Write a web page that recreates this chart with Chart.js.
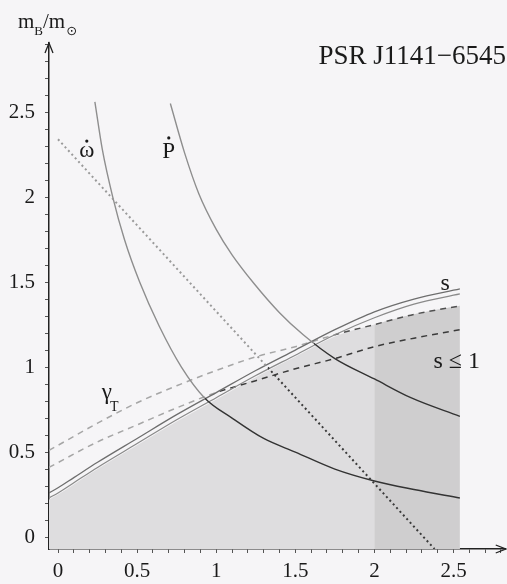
<!DOCTYPE html>
<html>
<head>
<meta charset="utf-8">
<script src="https://cdn.jsdelivr.net/npm/chart.js@4.4.1/dist/chart.umd.min.js"></script>
<style>
  html, body { margin: 0; padding: 0; background: #f6f5f7; }
  #wrap { width: 507px; height: 584px; position: relative; }
</style>
</head>
<body>
<div id="wrap"><canvas id="massChart"></canvas></div>
<script>
// tick labels
const xTickValues = [0, 0.5, 1, 1.5, 2, 2.5];
const xTickLabels = ['0', '0.5', '1', '1.5', '2', '2.5'];
const yTickValues = [0, 0.5, 1, 1.5, 2, 2.5];
const yTickLabels = ['0', '0.5', '1', '1.5', '2', '2.5'];

// omega-dot curve (solid, left)
const omegaX = [0.233, 0.28, 0.346, 0.42, 0.516, 0.64, 0.78, 0.925, 1.1, 1.3, 1.5, 1.75, 2.0, 2.25, 2.54];
const omegaY = [2.56, 2.28, 2.0, 1.75, 1.5, 1.24, 1.0, 0.82, 0.70, 0.58, 0.50, 0.40, 0.33, 0.28, 0.23];

// P-dot curve (solid, right)
const pdotX = [0.71, 0.8, 0.89, 1.0, 1.1, 1.24, 1.4, 1.55, 1.75, 2.0, 2.23, 2.54];
const pdotY = [2.55, 2.26, 2.02, 1.81, 1.66, 1.49, 1.32, 1.19, 1.05, 0.93, 0.82, 0.71];

// GR omega-dot line (dotted)
const grX = [0, 2.38];
const grY = [2.34, -0.07];

// s curves (double solid line)
const sX = [-0.057, 0, 0.1, 0.25, 0.5, 0.75, 1.0, 1.25, 1.5, 1.75, 2.0, 2.25, 2.54];
const sUpperY = [0.26, 0.29, 0.35, 0.44, 0.58, 0.72, 0.85, 0.98, 1.10, 1.22, 1.325, 1.40, 1.46];
const sLowerY = [0.23, 0.26, 0.32, 0.41, 0.55, 0.69, 0.82, 0.95, 1.07, 1.19, 1.29, 1.37, 1.43];

// gamma_T curves (dashed)
const gammaX = [-0.057, 0.25, 0.5, 0.75, 1.0, 1.25, 1.5, 1.75, 2.0, 2.25, 2.54];
const gammaUpperY = [0.51, 0.67, 0.79, 0.89, 0.98, 1.06, 1.12, 1.19, 1.25, 1.31, 1.36];
const gammaLowerY = [0.41, 0.56, 0.66, 0.76, 0.85, 0.92, 0.99, 1.05, 1.12, 1.17, 1.22];

// shaded s <= 1 region
const shadeX = [-0.057, 0, 0.1, 0.25, 0.5, 0.75, 1.0, 1.25, 1.5, 1.75, 2.0, 2.25, 2.54];
const shadeY = [0.22, 0.25, 0.31, 0.40, 0.54, 0.68, 0.81, 0.94, 1.06, 1.18, 1.25, 1.31, 1.36];
const bandX = [2.0, 2.25, 2.54];
const bandY = [1.25, 1.31, 1.36];

function pts(xs, ys) {
    return xs.map((x, i) => ({ x: x, y: ys[i] }));
}

const LIGHT = '#8e8e8e';
const DARK = '#333333';

// colour switches from light to dark where the line enters the shaded area
function splitColor(light, dark, fromX) {
    return function(context) {
        const chart = context.chart;
        const area = chart.chartArea;
        if (!area || !chart.scales.x) return light;
        const px = chart.scales.x.getPixelForValue(fromX);
        let t = (px - area.left) / (area.right - area.left);
        t = Math.min(1, Math.max(0, t));
        const g = chart.ctx.createLinearGradient(area.left, 0, area.right, 0);
        g.addColorStop(0, light);
        g.addColorStop(t, light);
        g.addColorStop(t, dark);
        g.addColorStop(1, dark);
        return g;
    };
}

function tickLabel(values, labels) {
    return function(value) {
        for (let i = 0; i < values.length; i++) {
            if (Math.abs(values[i] - value) < 1e-6) return labels[i];
        }
        return '';
    };
}

const serif = '"Liberation Serif", "DejaVu Serif", serif';

const decorations = {
    id: 'decorations',
    beforeDraw(chart) {
        const ctx = chart.ctx;
        ctx.save();
        ctx.fillStyle = '#f6f5f7';
        ctx.fillRect(0, 0, chart.width, chart.height);
        ctx.restore();
    },
    afterDraw(chart) {
        const ctx = chart.ctx;
        const a = chart.chartArea;
        const xs = chart.scales.x;
        const ys = chart.scales.y;
        ctx.save();

        // axis arrows
        ctx.strokeStyle = '#222';
        ctx.lineWidth = 1.3;
        ctx.beginPath();
        ctx.moveTo(a.left - 4, a.top + 10);
        ctx.lineTo(a.left, a.top);
        ctx.lineTo(a.left + 4, a.top + 10);
        ctx.moveTo(a.right - 10, a.bottom - 4);
        ctx.lineTo(a.right, a.bottom);
        ctx.lineTo(a.right - 10, a.bottom + 4);
        ctx.stroke();

        ctx.fillStyle = '#1a1a1a';
        ctx.textBaseline = 'alphabetic';

        // y axis title m_B / m_sun
        ctx.textAlign = 'left';
        ctx.font = '21px ' + serif;
        ctx.fillText('m', 18, 28);
        let w = ctx.measureText('m').width;
        ctx.font = '13px ' + serif;
        ctx.fillText('B', 18 + w, 35);
        let w2 = ctx.measureText('B').width;
        ctx.font = '21px ' + serif;
        ctx.fillText('/m', 18 + w + w2, 28);
        let w3 = ctx.measureText('/m').width;
        ctx.font = '13px "DejaVu Sans", sans-serif';
        ctx.fillText('\u2299', 18 + w + w2 + w3 + 1, 35);

        // pulsar name
        ctx.textAlign = 'right';
        ctx.font = '27px ' + serif;
        ctx.fillText('PSR J1141\u22126545', 506, 64);

        // curve labels
        ctx.textAlign = 'center';
        ctx.font = '23px ' + serif;
        let px = xs.getPixelForValue(0.182), py = ys.getPixelForValue(2.235);
        ctx.fillText('\u03c9', px, py);
        ctx.beginPath();
        ctx.arc(px, py - 16, 1.6, 0, Math.PI * 2);
        ctx.fill();

        px = xs.getPixelForValue(0.70); py = ys.getPixelForValue(2.23);
        ctx.fillText('P', px, py);
        ctx.beginPath();
        ctx.arc(px, py - 20, 1.6, 0, Math.PI * 2);
        ctx.fill();

        ctx.font = '24px ' + serif;
        ctx.fillText('s', xs.getPixelForValue(2.447), ys.getPixelForValue(1.453));
        ctx.fillText('s \u2264 1', xs.getPixelForValue(2.52), ys.getPixelForValue(0.994));

        ctx.textAlign = 'left';
        ctx.font = '23px ' + serif;
        px = xs.getPixelForValue(0.277); py = ys.getPixelForValue(0.81);
        ctx.fillText('\u03b3', px, py);
        w = ctx.measureText('\u03b3').width;
        ctx.font = '14px ' + serif;
        ctx.fillText('T', px + w - 2, ys.getPixelForValue(0.74));

        ctx.restore();
    }
};

const ctx = document.getElementById('massChart').getContext('2d');

new Chart(ctx, {
    type: 'line',
    data: {
        datasets: [
            {
                data: pts(grX, grY),
                borderColor: splitColor('#9a9a9a', '#3a3a3a', 1.33),
                borderWidth: 2,
                borderDash: [2, 3],
                order: 0
            },
            {
                data: pts(omegaX, omegaY),
                borderColor: splitColor(LIGHT, DARK, 0.93),
                borderWidth: 1.4,
                cubicInterpolationMode: 'monotone',
                order: 1
            },
            {
                data: pts(pdotX, pdotY),
                borderColor: splitColor(LIGHT, DARK, 1.62),
                borderWidth: 1.4,
                cubicInterpolationMode: 'monotone',
                order: 1
            },
            {
                data: pts(sX, sUpperY),
                borderColor: '#6e6e6e',
                borderWidth: 1.3,
                cubicInterpolationMode: 'monotone',
                order: 2
            },
            {
                data: pts(sX, sLowerY),
                borderColor: '#8a8a8a',
                borderWidth: 1.2,
                cubicInterpolationMode: 'monotone',
                order: 2
            },
            {
                data: pts(gammaX, gammaUpperY),
                borderColor: splitColor('#a6a6a6', '#505050', 1.75),
                borderWidth: 1.5,
                borderDash: [6, 5],
                cubicInterpolationMode: 'monotone',
                order: 3
            },
            {
                data: pts(gammaX, gammaLowerY),
                borderColor: splitColor('#a6a6a6', '#3a3a3a', 1.0),
                borderWidth: 1.5,
                borderDash: [6, 5],
                cubicInterpolationMode: 'monotone',
                order: 3
            },
            {
                data: pts(bandX, bandY),
                borderWidth: 0,
                borderColor: 'rgba(0,0,0,0)',
                backgroundColor: '#cfcecf',
                fill: 'start',
                cubicInterpolationMode: 'monotone',
                order: 9
            },
            {
                data: pts(shadeX, shadeY),
                borderWidth: 0,
                borderColor: 'rgba(0,0,0,0)',
                backgroundColor: '#dedddf',
                fill: 'start',
                cubicInterpolationMode: 'monotone',
                order: 10
            }
        ]
    },
    options: {
        responsive: true,
        maintainAspectRatio: false,
        animation: false,
        layout: { padding: { top: 43, right: 1, left: 0, bottom: 0 } },
        elements: { point: { radius: 0, hoverRadius: 0 } },
        plugins: {
            legend: { display: false },
            tooltip: { enabled: false }
        },
        scales: {
            x: {
                type: 'linear',
                min: -0.057,
                max: 2.83,
                afterFit: function(scale) { scale.height = 35; },
                border: { color: '#222', width: 1.5 },
                grid: { drawOnChartArea: false, drawTicks: true, tickLength: 4, color: '#555' },
                ticks: {
                    stepSize: 0.1,
                    includeBounds: false,
                    autoSkip: false,
                    maxRotation: 0,
                    padding: 6,
                    color: '#1a1a1a',
                    font: { family: serif, size: 21 },
                    callback: tickLabel(xTickValues, xTickLabels)
                }
            },
            y: {
                type: 'linear',
                min: -0.07,
                max: 2.906,
                afterFit: function(scale) { scale.width = 49; },
                border: { color: '#222', width: 1.5 },
                grid: { drawOnChartArea: false, drawTicks: true, tickLength: 4, color: '#555' },
                ticks: {
                    stepSize: 0.1,
                    includeBounds: false,
                    autoSkip: false,
                    padding: 10,
                    color: '#1a1a1a',
                    font: { family: serif, size: 21 },
                    callback: tickLabel(yTickValues, yTickLabels)
                }
            }
        }
    },
    plugins: [decorations]
});
</script>
</body>
</html>
